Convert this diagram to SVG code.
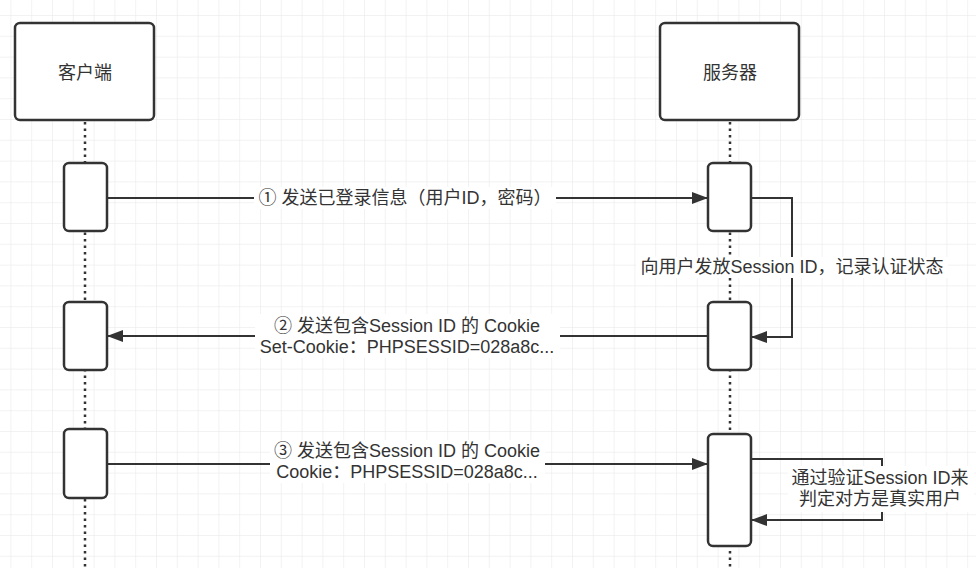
<svg xmlns="http://www.w3.org/2000/svg" width="976" height="568" viewBox="0 0 976 568">
  <style>
    .box { fill: #ffffff; stroke: #333333; stroke-width: 2.5; }
    .life { stroke: #333333; stroke-width: 2.5; stroke-dasharray: 2.5 4; fill: none; }
    .edge { stroke: #333333; stroke-width: 2; fill: none; }
    .t { font-family: "Liberation Sans", "Noto Sans CJK SC", sans-serif; font-size: 18px; fill: #333333; text-anchor: middle; }
    .bg { fill: #ffffff; }
  </style>
  <defs>
    <pattern id="grid" patternUnits="userSpaceOnUse" x="10.4" y="15" width="20.8" height="20.8">
      <path d="M20.8 0 L0 0 L0 20.8" fill="none" stroke="#e6e6e6" stroke-width="1"/>
    </pattern>
    <marker id="arr" viewBox="0 0 16 12" refX="16" refY="6" markerWidth="16" markerHeight="12" markerUnits="userSpaceOnUse" orient="auto">
      <path d="M0 0 L16 6 L0 12 Z" fill="#333333"/>
    </marker>
  </defs>

  <rect x="0" y="0" width="976" height="568" fill="#ffffff"/>
  <rect x="0" y="0" width="976" height="568" fill="url(#grid)"/>

  <g id="lifelines">
    <line class="life" x1="85" y1="122" x2="85" y2="568"/>
    <line class="life" x1="730" y1="122" x2="730" y2="568"/>
  </g>

  <g id="client">
    <rect class="box" x="15" y="23" width="139" height="97" rx="5"/>
    <text class="t" x="85" y="79">客户端</text>
  </g>
  <g id="server">
    <rect class="box" x="660" y="23" width="139" height="97" rx="5"/>
    <text class="t" x="730" y="79">服务器</text>
  </g>

  <g id="client-act1"><rect class="box" x="64" y="163" width="43" height="68" rx="5"/></g>
  <g id="client-act2"><rect class="box" x="64" y="302" width="43" height="68" rx="5"/></g>
  <g id="client-act3"><rect class="box" x="64" y="429" width="43" height="69" rx="5"/></g>
  <g id="server-act1"><rect class="box" x="708" y="163" width="43" height="68" rx="5"/></g>
  <g id="server-act2"><rect class="box" x="708" y="302" width="43" height="68" rx="5"/></g>
  <g id="server-act3"><rect class="box" x="708" y="434" width="43" height="112" rx="5"/></g>

  <g id="connectors">
    <path class="edge" d="M107 198 L708 198" marker-end="url(#arr)"/>
    <path class="edge" d="M751 198 L792 198 L792 337 L751 337" marker-end="url(#arr)"/>
    <path class="edge" d="M708 336 L107 336" marker-end="url(#arr)"/>
    <path class="edge" d="M107 464 L708 464" marker-end="url(#arr)"/>
    <path class="edge" d="M751 459 L882 459 L882 520 L751 520" marker-end="url(#arr)"/>
  </g>

  <g id="labels">
    <rect class="bg" x="254" y="187" width="302" height="22"/>
    <text class="t" x="405" y="204">① 发送已登录信息（用户ID，密码）</text>

    <rect class="bg" x="636" y="257" width="312" height="21"/>
    <text class="t" x="792" y="273">向用户发放Session ID，记录认证状态</text>

    <rect class="bg" x="255" y="314" width="305" height="44"/>
    <text class="t" x="407" y="332">② 发送包含Session ID 的 Cookie</text>
    <text class="t" x="407" y="353">Set-Cookie：PHPSESSID=028a8c...</text>

    <rect class="bg" x="270" y="440" width="275" height="43"/>
    <text class="t" x="407" y="457">③ 发送包含Session ID 的 Cookie</text>
    <text class="t" x="407" y="478">Cookie：PHPSESSID=028a8c...</text>

    <rect class="bg" x="788" y="466" width="186" height="46"/>
    <text class="t" x="880" y="484">通过验证Session ID来</text>
    <text class="t" x="880" y="505">判定对方是真实用户</text>
  </g>
</svg>
